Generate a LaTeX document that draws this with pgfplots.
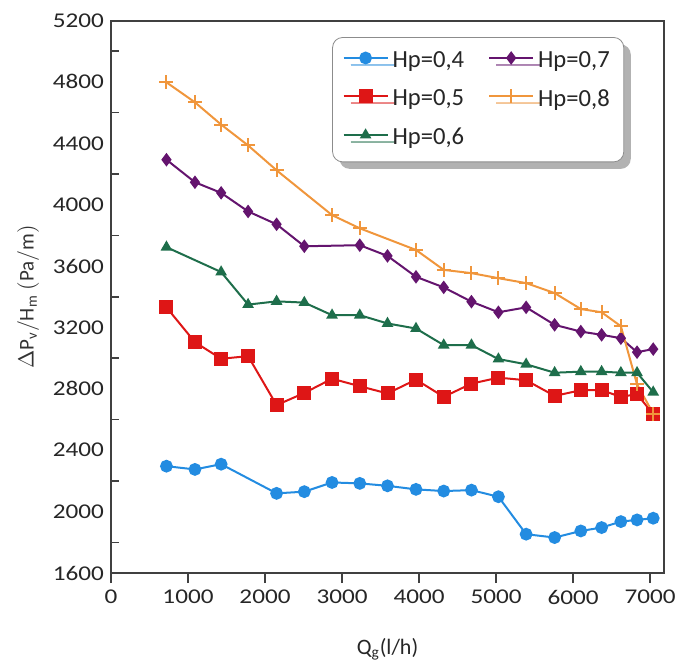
\documentclass[border=0pt]{standalone}
\usepackage{pgfplots}
\pgfplotsset{compat=1.18}
\usepackage{fontspec}
\setmainfont{Carlito}
\newfontfamily\tickfont{Carlito}[FakeStretch=1.2]
\usetikzlibrary{shadows}
\definecolor{cblue}{RGB}{35,140,225}
\definecolor{cred}{RGB}{222,22,22}
\definecolor{cgreen}{RGB}{30,110,75}
\definecolor{cpurple}{RGB}{100,20,110}
\definecolor{corange}{RGB}{240,150,60}
\begin{document}
\begin{tikzpicture}
\useasboundingbox (-55.5pt,-44pt) rectangle (282.5pt,286.5pt);
\begin{axis}[
  at={(0,0)}, anchor=south west,
  scale only axis, width=276.5pt, height=276.25pt,
  xmin=0, xmax=7180, ymin=1600, ymax=5200,
  xtick={0,1000,...,7000},
  ytick={1600,2000,...,5200},
  minor y tick num=1,
  xtick pos=bottom, ytick pos=left,
  xtick align=outside, ytick align=inside,
  major tick length=5pt, minor tick length=4pt,
  ytick style={draw=none},
  minor y tick style={draw=black!75, line width=0.8pt},
  xtick style={draw=black!75, line width=0.8pt},
  axis line style={draw=black!75, line width=1pt},
  /pgf/number format/assume math mode=true,
  /pgf/number format/1000 sep={},
  tick label style={font=\tickfont\fontsize{10.5}{12}\selectfont, text=black!85},
  xlabel={Q\textsubscript{g}(l/h)},
  xlabel style={at={(axis description cs:0.5,-0.138)}, anchor=center, font=\fontsize{11}{13}\selectfont, text=black!85},
  ylabel={$\Delta\mathrm{P_v/H_m\ (Pa/m)}$},
  ylabel style={at={(axis description cs:-0.150,0.5)}, anchor=center, rotate=0, font=\fontsize{10.5}{12}\selectfont, text=black!80},
  legend columns=2,
  legend image code/.code={\draw[mark repeat=2,mark phase=2] plot coordinates {(0pt,1.5pt)(11pt,1.5pt)(22pt,1.5pt)};},
  legend style={at={(rel axis cs:0.400,0.970)}, anchor=north west,
    draw=black!45, rounded corners=5pt, fill=white,
    drop shadow={shadow xshift=3.5pt, shadow yshift=-3.5pt, fill=black!60},
    font=\fontsize{12.3}{14}\selectfont, text=black!85,
    inner xsep=5pt, inner ysep=5pt, row sep=5.5pt,
    /tikz/every even column/.append style={column sep=10pt}},
  every axis plot/.append style={line width=1pt},
]
\addplot[color=cblue, mark=*, mark size=2.7pt] coordinates {
(720,2296) (1090,2275) (1430,2309) (2150,2119) (2510,2130) (2870,2190)
(3230,2184) (3590,2168) (3960,2145) (4320,2134) (4680,2140) (5030,2097)
(5390,1853) (5760,1831) (6100,1874) (6370,1896) (6620,1935) (6830,1946) (7040,1957)};
\addlegendentry{Hp=0,4}
\addplot[color=cpurple, mark=diamond*, mark size=2.6pt] coordinates {
(720,4293) (1090,4146) (1430,4077) (1780,3956) (2150,3872) (2510,3729)
(3230,3736) (3590,3666) (3960,3530) (4320,3461) (4680,3368) (5030,3299)
(5390,3331) (5760,3217) (6100,3173) (6370,3152) (6620,3130) (6830,3039) (7040,3059)};
\addlegendentry{Hp=0,7}
\addplot[color=cred, mark=square*, mark size=3pt] coordinates {
(720,3331) (1090,3104) (1430,2996) (1780,3013) (2150,2694) (2510,2773) (2870,2866)
(3230,2817) (3590,2770) (3960,2860) (4320,2748) (4680,2834) (5030,2873)
(5390,2856) (5760,2754) (6100,2791) (6370,2791) (6620,2748) (6830,2765) (7040,2635)};
\addlegendentry{Hp=0,5}
\addplot[color=corange, mark=+, mark size=3.5pt, mark options={line width=1pt}] coordinates {
(720,4797) (1090,4667) (1430,4522) (1780,4386) (2150,4224) (2870,3932)
(3230,3846) (3960,3705) (4320,3575) (4680,3554) (5030,3521) (5390,3489)
(5760,3424) (6100,3320) (6370,3299) (6620,3208) (6830,2829) (7040,2639)};
\addlegendentry{Hp=0,8}
\addplot[color=cgreen, mark=triangle*, mark size=2.4pt] coordinates {
(720,3723) (1430,3561) (1780,3349) (2150,3370) (2510,3362) (2870,3280)
(3230,3280) (3590,3226) (3960,3193) (4320,3085) (4680,3085) (5030,2994)
(5390,2960) (5760,2905) (6100,2912) (6370,2912) (6620,2905) (6830,2905) (7040,2778)};
\addlegendentry{Hp=0,6}
\draw[black!75, line width=1pt] (rel axis cs:0,0) rectangle (rel axis cs:1,1);
\end{axis}
\end{tikzpicture}
\end{document}
